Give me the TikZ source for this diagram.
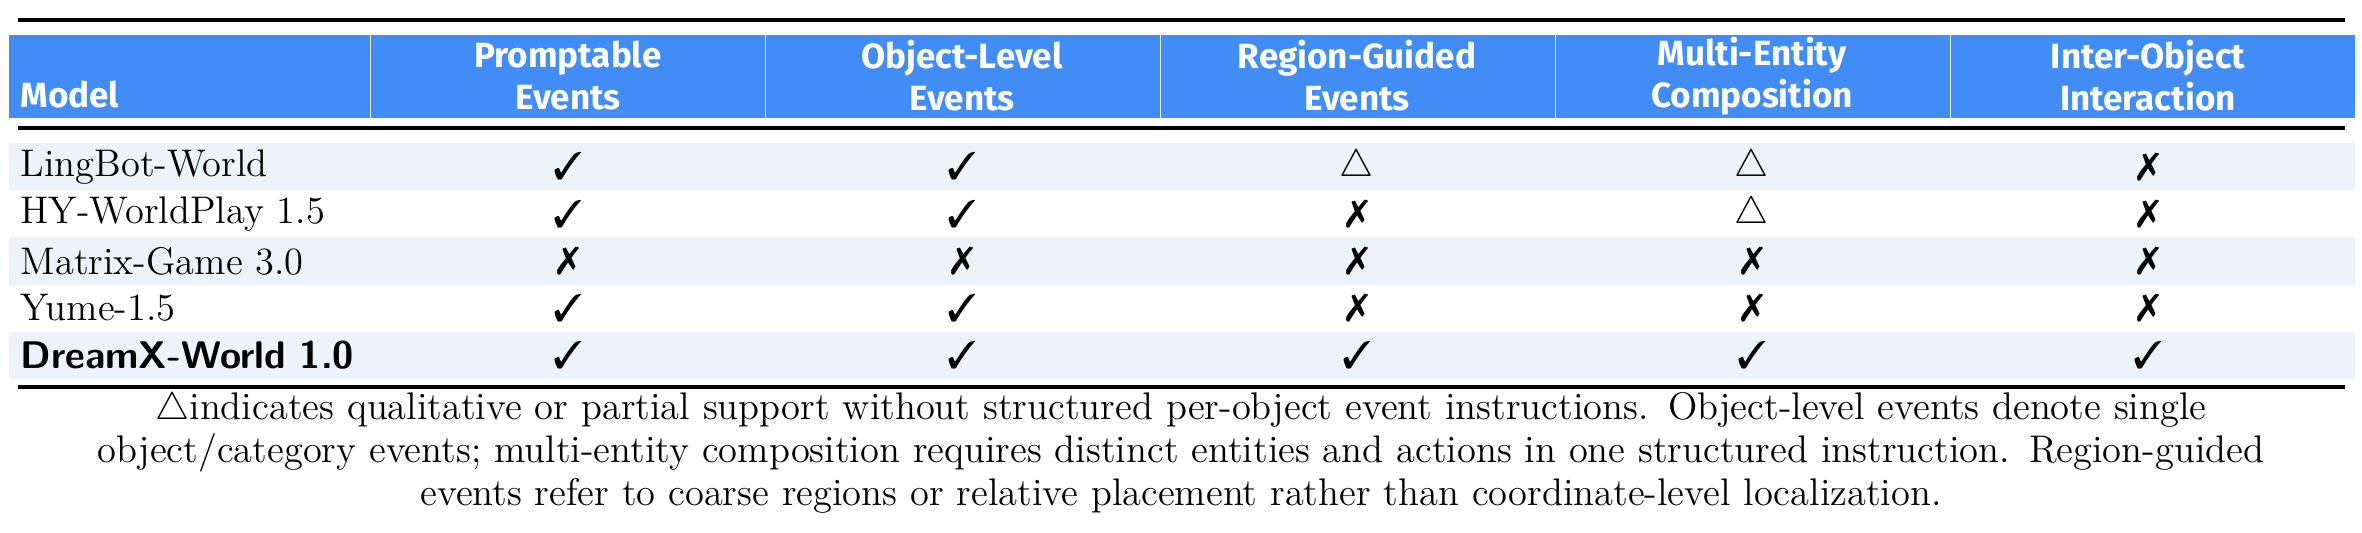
\documentclass[tikz,border=0pt]{standalone}
\usepackage{fontspec}
\usepackage{pifont}
\newfontfamily\hdfont{Fira Sans}
\definecolor{hdblue}{RGB}{66,141,245}
\definecolor{rowblue}{RGB}{236,243,250}
\newcommand{\yes}{\ding{51}}
\newcommand{\no}{\ding{55}}
\newcommand{\prt}{$\triangle$}
\begin{document}
\begin{tikzpicture}[x=0.2857pt,y=-0.2857pt,
  hd/.style={font=\hdfont\bfseries\fontsize{10}{12}\selectfont,text=white,align=center,inner sep=0pt},
  cell/.style={font=\fontsize{11}{13}\selectfont,inner sep=0pt},
  rulethick/.style={line width=0.9pt}]
\useasboundingbox (0,0) rectangle (2362,532);
\fill[hdblue] (9,35) rectangle (2355,118);
\foreach \x in {370,765,1160,1555,1950} \draw[white!85!hdblue,line width=0.2pt] (\x,35) -- (\x,118);
\draw[rulethick] (18,20) -- (2345,20);
\draw[rulethick] (18,128) -- (2345,128);
\draw[rulethick] (18,387) -- (2345,387);
\foreach \r in {0,2,4} \fill[rowblue] (9,143+47.2*\r) rectangle (2355,190.2+47.2*\r);
\node[hd,anchor=west] (hm) at (20,95) {Model};
\node[hd] (h1) at (568,76) {Promptable\\Events};
\node[hd] (h2) at (962,76) {Object-Level\\Events};
\node[hd] (h3) at (1357,76) {Region-Guided\\Events};
\node[hd] (h4) at (1752,76) {Multi-Entity\\Composition};
\node[hd] (h5) at (2148,76) {Inter-Object\\Interaction};
\foreach \name/\a/\b/\c/\d/\e [count=\i from 0] in {
  LingBot-World/\yes/\yes/\prt/\prt/\no,
  HY-WorldPlay 1.5/\yes/\yes/\no/\prt/\no,
  Matrix-Game 3.0/\no/\no/\no/\no/\no,
  Yume-1.5/\yes/\yes/\no/\no/\no,
  {\sffamily\bfseries DreamX-World 1.0}/\yes/\yes/\yes/\yes/\yes} {
  \node[cell,anchor=west] (m\i) at (20,166.6+47.2*\i) {\name};
  \node[cell] (c\i a) at (568,166.6+47.2*\i) {\a};
  \node[cell] (c\i b) at (962,166.6+47.2*\i) {\b};
  \node[cell] (c\i c) at (1357,166.6+47.2*\i) {\c};
  \node[cell] (c\i d) at (1752,166.6+47.2*\i) {\d};
  \node[cell] (c\i e) at (2148,166.6+47.2*\i) {\e};
}
\node[cell,anchor=north,text width=670pt,align=center,font=\fontsize{11}{12.2}\selectfont] (cap) at (1181,392)
 {$\triangle$indicates qualitative or partial support without structured per-object event instructions. Object-level events denote single\\ object/category events; multi-entity composition requires distinct entities and actions in one structured instruction. Region-guided\\ events refer to coarse regions or relative placement rather than coordinate-level localization.};
\end{tikzpicture}
\end{document}
